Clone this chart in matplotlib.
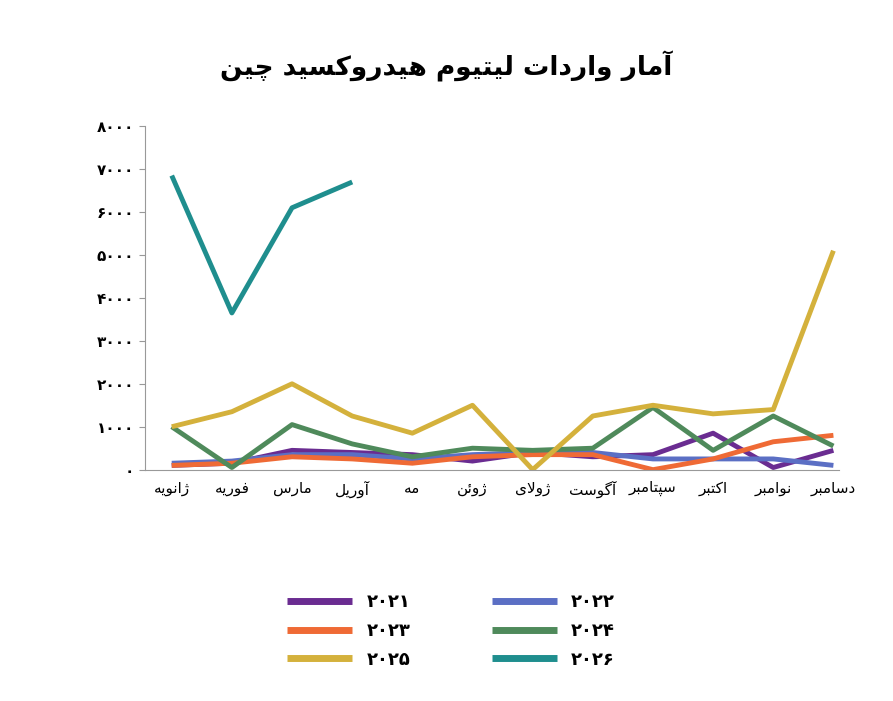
import matplotlib
matplotlib.use("Agg")
import matplotlib.pyplot as plt

# minimal Persian shaping: (isolated, final, initial, medial); None = does not join left
FORMS = {
    "ا": (0xFE8D, 0xFE8E, None, None), "آ": (0xFE81, 0xFE82, None, None),
    "ب": (0xFE8F, 0xFE90, 0xFE91, 0xFE92), "ت": (0xFE95, 0xFE96, 0xFE97, 0xFE98),
    "د": (0xFEA9, 0xFEAA, None, None), "ر": (0xFEAD, 0xFEAE, None, None),
    "ز": (0xFEAF, 0xFEB0, None, None), "ژ": (0xFB8A, 0xFB8B, None, None),
    "س": (0xFEB1, 0xFEB2, 0xFEB3, 0xFEB4), "ف": (0xFED1, 0xFED2, 0xFED3, 0xFED4),
    "ک": (0xFB8E, 0xFB8F, 0xFB90, 0xFB91), "گ": (0xFB92, 0xFB93, 0xFB94, 0xFB95),
    "ل": (0xFEDD, 0xFEDE, 0xFEDF, 0xFEE0), "م": (0xFEE1, 0xFEE2, 0xFEE3, 0xFEE4),
    "ن": (0xFEE5, 0xFEE6, 0xFEE7, 0xFEE8), "و": (0xFEED, 0xFEEE, None, None),
    "ه": (0xFEE9, 0xFEEA, 0xFEEB, 0xFEEC), "ی": (0xFBFC, 0xFBFD, 0xFBFE, 0xFBFF),
    "ئ": (0xFE89, 0xFE8A, 0xFE8B, 0xFE8C), "چ": (0xFB7A, 0xFB7B, 0xFB7C, 0xFB7D),
    "پ": (0xFB56, 0xFB57, 0xFB58, 0xFB59),
}


def shape(text):
    # merge lam-alef
    chars = []
    i = 0
    while i < len(text):
        if text[i] == "ل" and i + 1 < len(text) and text[i + 1] == "ا":
            chars.append("LA")
            i += 2
        else:
            chars.append(text[i])
            i += 1

    def joins_left(c):
        return c in FORMS and FORMS[c][2] is not None

    def joins(c):
        return c in FORMS or c == "LA"

    out = []
    for k, c in enumerate(chars):
        prev = chars[k - 1] if k > 0 else None
        nxt = chars[k + 1] if k + 1 < len(chars) else None
        p = prev is not None and joins_left(prev)
        if c == "LA":
            out.append(chr(0xFEFC if p else 0xFEFB))
            continue
        if c not in FORMS:
            out.append(c)
            continue
        f = FORMS[c]
        n = nxt is not None and joins(nxt) and f[2] is not None
        if p and n:
            out.append(chr(f[3]))
        elif p:
            out.append(chr(f[1]))
        elif n:
            out.append(chr(f[2]))
        else:
            out.append(chr(f[0]))
    return "".join(out)[::-1]


def fa_num(n):
    return "".join(chr(0x06F0 + int(d)) for d in str(n))


TITLE = "آمار واردات لیتیوم هیدروکسید چین"
MONTHS = ["ژانویه", "فوریه", "مارس", "آوریل", "مه", "ژوئن", "ژولای",
          "آگوست", "سپتامبر", "اکتبر", "نوامبر", "دسامبر"]
Y_TICKS = [0, 1000, 2000, 3000, 4000, 5000, 6000, 7000, 8000]

S2021 = [100, 150, 450, 400, 350, 200, 400, 300, 350, 850, 50, 450]
S2022 = [150, 200, 350, 350, 250, 350, 400, 400, 250, 250, 250, 100]
S2023 = [100, 150, 300, 250, 150, 300, 350, 350, 0, 250, 650, 800]
S2024 = [1000, 50, 1050, 600, 300, 500, 450, 500, 1450, 450, 1250, 550]
S2025 = [1000, 1350, 2000, 1250, 850, 1500, 0, 1250, 1500, 1300, 1400, 5100]
S2026 = [6850, 3650, 6100, 6700]

SERIES = [(2021, S2021, "#6a2c91"), (2022, S2022, "#5b6fc4"),
          (2023, S2023, "#ef6a35"), (2024, S2024, "#4f8a5b"),
          (2025, S2025, "#d4b13c"), (2026, S2026, "#1f8e8e")]

fig = plt.figure(figsize=(8.93, 7.01), dpi=100)
ax = fig.add_axes([0.162, 0.33, 0.778, 0.49])
for year, vals, col in SERIES:
    ax.plot(range(len(vals)), vals, color=col, lw=3.5, label=fa_num(year),
            solid_capstyle="butt")

ax.set_xlim(-0.45, 11.1)
ax.set_ylim(0, 8000)
ax.set_yticks(Y_TICKS)
ax.set_yticklabels([fa_num(v) for v in Y_TICKS], fontsize=11, fontweight="bold")
ax.set_xticks(range(12))
ax.set_xticklabels([shape(m) for m in MONTHS], fontsize=11)
ax.tick_params(axis="x", length=0, pad=8)
ax.tick_params(axis="y", length=4, color="#999999")
for s in ["top", "right"]:
    ax.spines[s].set_visible(False)
for s in ["left", "bottom"]:
    ax.spines[s].set_color("#999999")

fig.text(0.5, 0.893, shape(TITLE), ha="center", fontsize=19, fontweight="bold")

# legend order: rows (2021, 2022), (2023, 2024), (2025, 2026)
handles, labels = ax.get_legend_handles_labels()
order = [0, 2, 4, 1, 3, 5]
leg = fig.legend([handles[i] for i in order], [labels[i] for i in order],
                 loc="center", bbox_to_anchor=(0.505, 0.1), ncol=2, frameon=False,
                 handlelength=3.6, columnspacing=4.5, labelspacing=0.6,
                 prop={"weight": "bold", "size": 13})
for line in leg.get_lines():
    line.set_linewidth(5)

fig.savefig("out.png", dpi=100)
